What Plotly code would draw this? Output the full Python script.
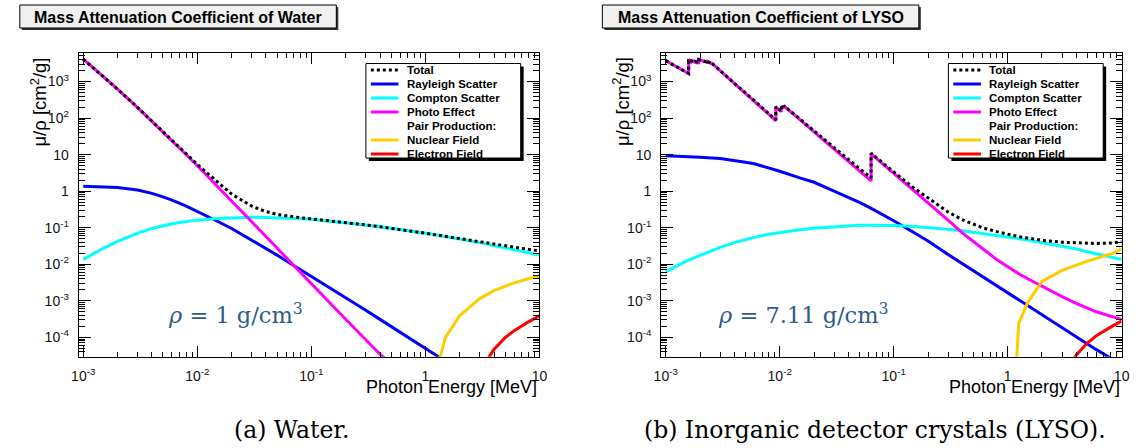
import plotly.graph_objects as go

W, H = 1139, 448

# ---------------- data : Water ----------------
E_WATER = [0.001, 0.0015, 0.002, 0.003, 0.004, 0.005, 0.006, 0.008, 0.01, 0.015, 0.02,
           0.03, 0.04, 0.05, 0.06, 0.08, 0.1, 0.15, 0.2, 0.3, 0.4, 0.5, 0.6, 0.8, 1.0,
           1.25, 1.5, 2.0, 3.0, 4.0, 5.0, 6.0, 8.0, 10.0]
WATER_TOTAL = [4078, 1376, 618, 193.6, 83.4, 42.9, 24.8, 10.4, 5.4, 1.8, 0.83,
               0.39, 0.275, 0.23, 0.21, 0.187, 0.174, 0.153, 0.138, 0.119, 0.106, 0.097, 0.0897, 0.0787, 0.0707,
               0.0633, 0.0577, 0.0497, 0.0402, 0.0348, 0.0312, 0.0287, 0.0255, 0.0232]
WATER_RAYLEIGH = [1.37, 1.33, 1.26, 1.07, 0.87, 0.70, 0.57, 0.39, 0.28, 0.15, 0.095,
                  0.046, 0.027, 0.0178, 0.0125, 0.0072, 0.0047, 0.0021, 0.00122, 0.00055, 0.00031, 0.0002, 0.000138, 7.8e-5, 5.0e-5,
                  3.2e-5, 2.2e-5, 1.25e-5, 5.6e-6, 3.2e-6, 2.0e-6, 1.4e-6, 8e-7, 5e-7]
WATER_COMPTON = [0.0136, 0.0273, 0.0423, 0.0712, 0.0952, 0.114, 0.128, 0.148, 0.161, 0.178, 0.187,
                 0.192, 0.191, 0.189, 0.185, 0.177, 0.169, 0.151, 0.137, 0.119, 0.106, 0.0969, 0.0896, 0.0786, 0.0707,
                 0.0632, 0.0575, 0.0492, 0.0390, 0.0325, 0.0282, 0.0250, 0.0207, 0.0178]
E_WATER_PHOTO = [0.001, 0.0015, 0.002, 0.003, 0.004, 0.005, 0.006, 0.008, 0.01, 0.015, 0.02,
                 0.03, 0.04, 0.05, 0.06, 0.08, 0.1, 0.15, 0.2, 0.3, 0.4, 0.5, 0.6]
WATER_PHOTO = [4076, 1374, 617, 192.6, 82.0, 42.0, 24.1, 9.92, 4.94, 1.37, 0.549,
               0.148, 0.0575, 0.0277, 0.0152, 0.00597, 0.00289, 0.000788, 0.000313, 8.56e-5, 3.46e-5, 1.87e-5, 1.1e-5]
E_WATER_PAIR_N = [1.25, 1.5, 2.0, 3.0, 4.0, 5.0, 6.0, 8.0, 10.0]
WATER_PAIR_NUC = [1.2e-5, 1.0e-4, 3.9e-4, 1.15e-3, 1.9e-3, 2.55e-3, 3.1e-3, 4.0e-3, 4.75e-3]
E_WATER_PAIR_E = [3.0, 4.0, 5.0, 6.0, 8.0, 10.0]
WATER_PAIR_EL = [1.2e-5, 4.7e-5, 9.8e-5, 1.52e-4, 2.65e-4, 3.85e-4]

# ---------------- data : LYSO ----------------
E_LYSO_PE = [0.001, 0.0015, 0.001588, 0.001588, 0.001639, 0.001639, 0.00184, 0.00184,
             0.001949, 0.001949, 0.00226, 0.00226, 0.0025, 0.0025, 0.003, 0.004, 0.005, 0.006,
             0.008, 0.009244, 0.009244, 0.01, 0.01035, 0.01035, 0.01087, 0.01087, 0.015, 0.02,
             0.03, 0.04, 0.05, 0.06, 0.0633, 0.0633, 0.08, 0.1, 0.15, 0.2, 0.3, 0.4, 0.5, 0.6,
             0.8, 1.0, 1.25, 1.5, 2.0, 3.0, 4.0, 5.0, 6.0, 8.0, 10.0]
LYSO_PHOTO = [3700, 1820, 1650, 3600, 3450, 3800, 3300, 3500,
              3300, 4000, 3450, 3750, 3100, 3300, 1980, 885, 474, 284,
              127, 85, 200, 162, 150, 205, 185, 215, 91, 42,
              14.2, 6.6, 3.6, 2.2, 1.9, 10.5, 5.6, 3.1, 1.05, 0.5, 0.16, 0.072, 0.041, 0.027,
              0.0135, 0.0085, 0.0055, 0.0040, 0.0025, 0.0013, 0.00085, 0.00062, 0.0005, 0.00038, 0.00031]
LYSO_TOTAL = [3710, 1830, 1660, 3610, 3460, 3810, 3310, 3510,
              3310, 4010, 3460, 3760, 3110, 3310, 1990, 893, 481, 290,
              131, 89, 204, 166, 153, 208, 188, 218, 93.5, 44,
              15.4, 7.3, 4.15, 2.65, 2.33, 10.9, 5.9, 3.36, 1.23, 0.64, 0.27, 0.165, 0.122, 0.10,
              0.078, 0.066, 0.057, 0.052, 0.045, 0.040, 0.038, 0.037, 0.037, 0.038, 0.041]
E_LYSO = [0.001, 0.0015, 0.002, 0.003, 0.004, 0.005, 0.006, 0.008, 0.01, 0.015, 0.02,
          0.03, 0.04, 0.05, 0.06, 0.08, 0.1, 0.15, 0.2, 0.3, 0.4, 0.5, 0.6, 0.8, 1.0,
          1.25, 1.5, 2.0, 3.0, 4.0, 5.0, 6.0, 8.0, 10.0]
LYSO_RAYLEIGH = [9.3, 8.9, 8.5, 7.8, 7.0, 6.2, 5.6, 4.4, 3.5, 2.3, 1.75,
                 1.0, 0.68, 0.49, 0.37, 0.23, 0.155, 0.074, 0.043, 0.0185, 0.0104, 0.0066, 0.0046, 0.0026, 0.0016,
                 1.03e-3, 7.2e-4, 4.0e-4, 1.8e-4, 1.0e-4, 6.6e-5, 4.6e-5, 2.7e-5, 1.7e-5]
LYSO_COMPTON = [0.0063, 0.012, 0.0175, 0.029, 0.039, 0.048, 0.055, 0.066, 0.074, 0.088, 0.097,
                0.107, 0.113, 0.116, 0.117, 0.117, 0.115, 0.108, 0.101, 0.090, 0.082, 0.075, 0.070, 0.062, 0.056,
                0.050, 0.046, 0.039, 0.031, 0.026, 0.022, 0.0195, 0.0158, 0.0135]
E_LYSO_PAIR_N = [1.2, 1.25, 1.5, 2.0, 3.0, 4.0, 5.0, 6.0, 8.0, 10.0]
LYSO_PAIR_NUC = [2.5e-5, 2.4e-4, 9.0e-4, 3.4e-3, 6.8e-3, 9.6e-3, 0.0121, 0.0145, 0.019, 0.026]
E_LYSO_PAIR_E = [3.0, 4.0, 5.0, 6.0, 8.0, 10.0]
LYSO_PAIR_EL = [8e-6, 3.3e-5, 7.0e-5, 1.1e-4, 1.9e-4, 2.8e-4]

X_TICKS = [1e-3, 1e-2, 1e-1, 1, 10]
X_TICKTEXT = ["10<sup>-3</sup>", "10<sup>-2</sup>", "10<sup>-1</sup>", "1", "10"]
Y_TICKS = [1e-4, 1e-3, 1e-2, 1e-1, 1, 10, 100, 1000]
Y_TICKTEXT = ["10<sup>-4</sup>", "10<sup>-3</sup>", "10<sup>-2</sup>", "10<sup>-1</sup>",
              "1", "10", "10<sup>2</sup>", "10<sup>3</sup>"]
LEGEND_LABELS = ["Total", "Rayleigh Scatter", "Compton Scatter", "Photo Effect",
                 "Pair Production:", "Nuclear Field", "Electron Field"]
TITLES = ["Mass Attenuation Coefficient of Water", "Mass Attenuation Coefficient of LYSO"]
CAPTIONS = ["(a) Water.", "(b) Inorganic detector crystals (LYSO)."]
DENSITY_LABELS = ["<i>ρ</i> = 1 g/cm<sup>3</sup>", "<i>ρ</i> = 7.11 g/cm<sup>3</sup>"]

C_TOTAL = "black"
C_RAY = "#0000ff"
C_COMP = "#00ffff"
C_PHOTO = "#ff00ff"
C_NUC = "#ffcc00"
C_EL = "#ff0000"
LW = 3

# ---------------- geometry (pixels) ----------------
PLOT_TOP, PLOT_BOT = 53.0, 356.7
PANELS = [dict(x0=71.7, x1=539.0, rho_x=160, cap_x=288),
          dict(x0=662.5, x1=1129.5, rho_x=718, cap_x=879)]


def px(x):
    return x / W


def py(y):
    return 1 - y / H


fig = go.Figure()

panel_data = [
    [(E_WATER, WATER_RAYLEIGH, C_RAY, "solid"),
     (E_WATER, WATER_COMPTON, C_COMP, "solid"),
     (E_WATER_PHOTO, WATER_PHOTO, C_PHOTO, "solid"),
     (E_WATER_PAIR_N, WATER_PAIR_NUC, C_NUC, "solid"),
     (E_WATER_PAIR_E, WATER_PAIR_EL, C_EL, "solid"),
     (E_WATER, WATER_TOTAL, C_TOTAL, "dot")],
    [(E_LYSO, LYSO_RAYLEIGH, C_RAY, "solid"),
     (E_LYSO, LYSO_COMPTON, C_COMP, "solid"),
     (E_LYSO_PE, LYSO_PHOTO, C_PHOTO, "solid"),
     (E_LYSO_PAIR_N, LYSO_PAIR_NUC, C_NUC, "solid"),
     (E_LYSO_PAIR_E, LYSO_PAIR_EL, C_EL, "solid"),
     (E_LYSO_PE, LYSO_TOTAL, C_TOTAL, "dot")],
]

for i, curves in enumerate(panel_data):
    xa = "x" if i == 0 else "x2"
    ya = "y" if i == 0 else "y2"
    for ex, vals, col, dash in curves:
        fig.add_trace(go.Scatter(x=ex, y=vals, mode="lines", xaxis=xa, yaxis=ya,
                                 line=dict(color=col, width=LW, dash=dash),
                                 showlegend=False, hoverinfo="skip"))

minor_x = [k * 10.0 ** n for n in range(-4, 1) for k in range(2, 10)]
minor_y = [k * 10.0 ** n for n in range(-5, 4) for k in range(2, 10)]
SANS = "Liberation Sans, Arial, sans-serif"
tick_font = dict(family=SANS, size=14, color="#111")


def xaxis_cfg(p):
    return dict(type="log", range=[-3.04, 1.0], domain=[px(p["x0"]), px(p["x1"])],
                showline=True, linecolor="black", linewidth=1, mirror="allticks",
                ticks="inside", ticklen=11, tickwidth=1, tickcolor="black",
                tickmode="array", tickvals=X_TICKS, ticktext=X_TICKTEXT,
                tickfont=tick_font, ticklabelstandoff=6,
                showgrid=False, zeroline=False,
                minor=dict(ticks="inside", ticklen=5, tickwidth=1, tickcolor="black",
                           tickmode="array", tickvals=minor_x, showgrid=False))


def yaxis_cfg():
    return dict(type="log", range=[-4.53, 3.78], domain=[py(PLOT_BOT), py(PLOT_TOP)],
                showline=True, linecolor="black", linewidth=1, mirror="allticks",
                ticks="inside", ticklen=12, tickwidth=1, tickcolor="black",
                tickmode="array", tickvals=Y_TICKS, ticktext=Y_TICKTEXT,
                tickfont=tick_font, ticklabelstandoff=6,
                showgrid=False, zeroline=False,
                minor=dict(ticks="inside", ticklen=6, tickwidth=1, tickcolor="black",
                           tickmode="array", tickvals=minor_y, showgrid=False))


xa1 = xaxis_cfg(PANELS[0]); xa1["anchor"] = "y"
xa2 = xaxis_cfg(PANELS[1]); xa2["anchor"] = "y2"
ya1 = yaxis_cfg(); ya1["anchor"] = "x"
ya2 = yaxis_cfg(); ya2["anchor"] = "x2"

shapes = []
annotations = []

legend_colors = [C_TOTAL, C_RAY, C_COMP, C_PHOTO, None, C_NUC, C_EL]
legend_dash = ["dot", "solid", "solid", "solid", None, "solid", "solid"]

for i, p in enumerate(PANELS):
    off = p["x0"] - PANELS[0]["x0"]
    # title box
    tx0, tx1, ty0, ty1 = 12 + off, 333 + off, 5, 28
    shapes.append(dict(type="rect", xref="paper", yref="paper",
                       x0=px(tx0 + 2), x1=px(tx1 + 2), y0=py(ty1 + 2), y1=py(ty0 + 2),
                       line=dict(width=0), fillcolor="#333"))
    shapes.append(dict(type="rect", xref="paper", yref="paper",
                       x0=px(tx0), x1=px(tx1), y0=py(ty1), y1=py(ty0),
                       line=dict(color="black", width=1), fillcolor="#f0f0f0"))
    annotations.append(dict(text="<b>%s</b>" % TITLES[i], xref="paper", yref="paper",
                            x=px((tx0 + tx1) / 2), y=py((ty0 + ty1) / 2 + 0.5),
                            xanchor="center", yanchor="middle", showarrow=False,
                            font=dict(family=SANS, size=16, color="black")))
    # legend box
    lx0, lx1, ly0, ly1 = 363 + off, 520 + off, 63.5, 158
    shapes.append(dict(type="rect", xref="paper", yref="paper",
                       x0=px(lx0 + 3), x1=px(lx1 + 3), y0=py(ly1 + 3), y1=py(ly0 + 3),
                       line=dict(width=0), fillcolor="black"))
    shapes.append(dict(type="rect", xref="paper", yref="paper",
                       x0=px(lx0), x1=px(lx1), y0=py(ly1), y1=py(ly0),
                       line=dict(color="black", width=1), fillcolor="white"))
    for k, lab in enumerate(LEGEND_LABELS):
        yy = 70 + 14 * k
        if legend_colors[k] is not None:
            shapes.append(dict(type="line", xref="paper", yref="paper",
                               x0=px(368 + off), x1=px(396 + off), y0=py(yy), y1=py(yy),
                               line=dict(color=legend_colors[k], width=LW, dash=legend_dash[k])))
        annotations.append(dict(text="<b>%s</b>" % lab, xref="paper", yref="paper",
                                x=px(402.5 + off), y=py(yy), xanchor="left", yanchor="middle",
                                showarrow=False,
                                font=dict(family=SANS, size=11.5, color="black")))
    # axis titles
    annotations.append(dict(text="μ/ρ [cm<sup>2</sup>/g]", xref="paper", yref="paper",
                            x=px(31 + off), y=py(102), xanchor="center", yanchor="middle",
                            textangle=-90, showarrow=False,
                            font=dict(family=SANS, size=18.5, color="black")))
    annotations.append(dict(text="Photon Energy [MeV]", xref="paper", yref="paper",
                            x=px(p["x1"]), y=py(387), xanchor="right", yanchor="middle",
                            showarrow=False,
                            font=dict(family=SANS, size=18, color="black")))
    # density label
    annotations.append(dict(text=DENSITY_LABELS[i], xref="paper", yref="paper",
                            x=px(p["rho_x"]), y=py(313), xanchor="left", yanchor="middle",
                            showarrow=False,
                            font=dict(family="DejaVu Serif, serif", size=22.5, color="#2d5c8c")))
    # caption
    annotations.append(dict(text=CAPTIONS[i], xref="paper", yref="paper",
                            x=px(p["cap_x"]), y=py(430), xanchor="center", yanchor="middle",
                            showarrow=False,
                            font=dict(family="DejaVu Serif, serif", size=23.5, color="black")))

fig.update_layout(width=W, height=H, margin=dict(l=0, r=0, t=0, b=0),
                  paper_bgcolor="white", plot_bgcolor="white",
                  xaxis=xa1, xaxis2=xa2, yaxis=ya1, yaxis2=ya2,
                  shapes=shapes, annotations=annotations, showlegend=False)

fig.write_html("out.html")
